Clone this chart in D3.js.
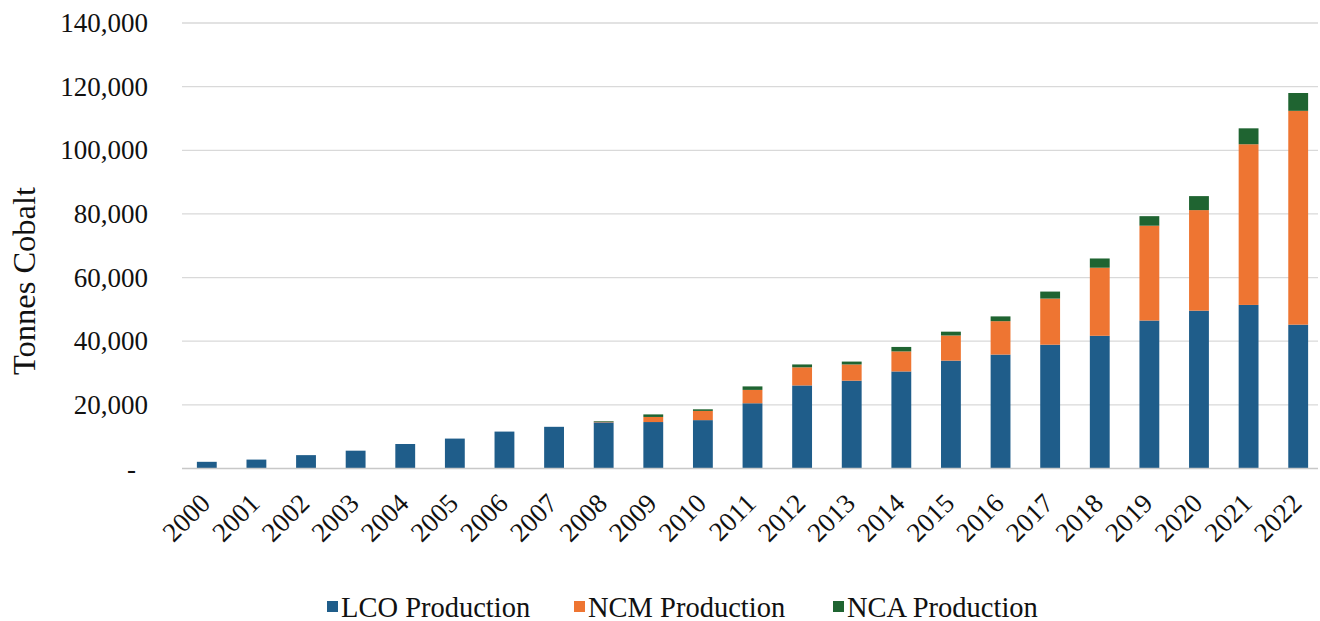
<!DOCTYPE html>
<html lang="en">
<head>
    <meta charset="UTF-8">
    <script src="https://d3js.org/d3.v7.min.js"></script>
    <title>Tonnes Cobalt</title>
    <style>
        body {
            margin: 0;
            padding: 0;
            background-color: #fff;
        }
        text {
            font-family: "Liberation Serif", "Times New Roman", serif;
            fill: #111;
        }
        .grid line {
            stroke: #d9d9d9;
            stroke-width: 1.3;
        }
    </style>
</head>
<body>
    <div id="chart"></div>
    <script>
        // values, tonnes of cobalt
        const years = ["2000", "2001", "2002", "2003", "2004", "2005", "2006", "2007", "2008", "2009", "2010",
            "2011", "2012", "2013", "2014", "2015", "2016", "2017", "2018", "2019", "2020", "2021", "2022"]
        const lco = [2100, 2800, 4200, 5600, 7700, 9400, 11600, 13100, 14500, 14600, 15200,
            20500, 26100, 27600, 30500, 33900, 35800, 38900, 41700, 46500, 49600, 51400, 45200]
        const ncm = [0, 0, 0, 0, 0, 0, 0, 0, 200, 1600, 2900,
            4200, 5700, 5100, 6300, 7900, 10500, 14500, 21400, 29800, 31600, 50500, 67200]
        const nca = [0, 0, 0, 0, 0, 0, 0, 0, 200, 800, 500,
            1100, 900, 900, 1400, 1200, 1500, 2200, 2900, 3000, 4400, 5000, 5600]
        const seriesNames = ["LCO Production", "NCM Production", "NCA Production"]
        const yTicks = [0, 20000, 40000, 60000, 80000, 100000, 120000, 140000]

        const colors = ["#1f5d8a", "#ee7532", "#1f6431"]

        const W = 1320, H = 621
        const pad = { left: 182, right: 1323, top: 23, bottom: 468.5 }

        const rows = years.map((y, i) => ({ year: y, lco: lco[i], ncm: ncm[i], nca: nca[i] }))
        const stacked = d3.stack().keys(["lco", "ncm", "nca"])(rows)

        const svg = d3.select("#chart").append("svg")
            .attr("width", W)
            .attr("height", H)

        const x = d3.scaleBand().domain(years)
            .range([pad.left, pad.right])
            .paddingInner(0.6)
            .paddingOuter(0.3)

        const y = d3.scaleLinear().domain([0, 140000])
            .range([pad.bottom, pad.top])

        // gridlines
        svg.append("g").attr("class", "grid")
            .selectAll("line").data(yTicks.slice(1))
            .enter().append("line")
            .attr("x1", pad.left).attr("x2", 1318)
            .attr("y1", d => y(d)).attr("y2", d => y(d))

        // bars
        svg.append("g").selectAll("g").data(stacked)
            .enter().append("g")
            .attr("fill", (d, i) => colors[i])
            .selectAll("rect").data(d => d)
            .enter().append("rect")
            .attr("x", d => x(d.data.year))
            .attr("width", x.bandwidth())
            .attr("y", d => y(d[1]))
            .attr("height", d => y(d[0]) - y(d[1]))

        // baseline
        svg.append("line")
            .attr("x1", pad.left).attr("x2", 1318)
            .attr("y1", y(0)).attr("y2", y(0))
            .attr("stroke", "#c8c8c8").attr("stroke-width", 1.3)

        // y axis
        const yAxis = d3.axisLeft(y).tickValues(yTicks).tickSize(0).tickPadding(34)
            .tickFormat(d => d === 0 ? "-" : d3.format(",")(d))
        const ya = svg.append("g").attr("transform", "translate(" + pad.left + ",0)").call(yAxis)
        ya.select(".domain").remove()
        ya.selectAll("text").attr("font-size", 27).attr("font-family", null)
            .attr("dx", d => d === 0 ? -12 : 0)

        // x axis labels
        svg.append("g").selectAll("text").data(years)
            .enter().append("text")
            .attr("transform", d => "translate(" + (x(d) + x.bandwidth() / 2 + 5) + ",505) rotate(-45)")
            .attr("text-anchor", "end")
            .attr("font-size", 27)
            .text(d => d)

        // y title
        svg.append("text")
            .attr("transform", "translate(35,281) rotate(-90)")
            .attr("text-anchor", "middle")
            .attr("font-size", 32.5)
            .text("Tonnes Cobalt")

        // legend
        const legX = [327, 574, 833]
        const leg = svg.append("g").selectAll("g").data(seriesNames)
            .enter().append("g")
            .attr("transform", (d, i) => "translate(" + legX[i] + ",607)")
        leg.append("rect")
            .attr("x", 0).attr("y", -6)
            .attr("width", 11).attr("height", 11)
            .attr("fill", (d, i) => colors[i])
        leg.append("text")
            .attr("x", 14).attr("y", 9.5)
            .attr("font-size", 28.5)
            .text(d => d)
    </script>
</body>
</html>
